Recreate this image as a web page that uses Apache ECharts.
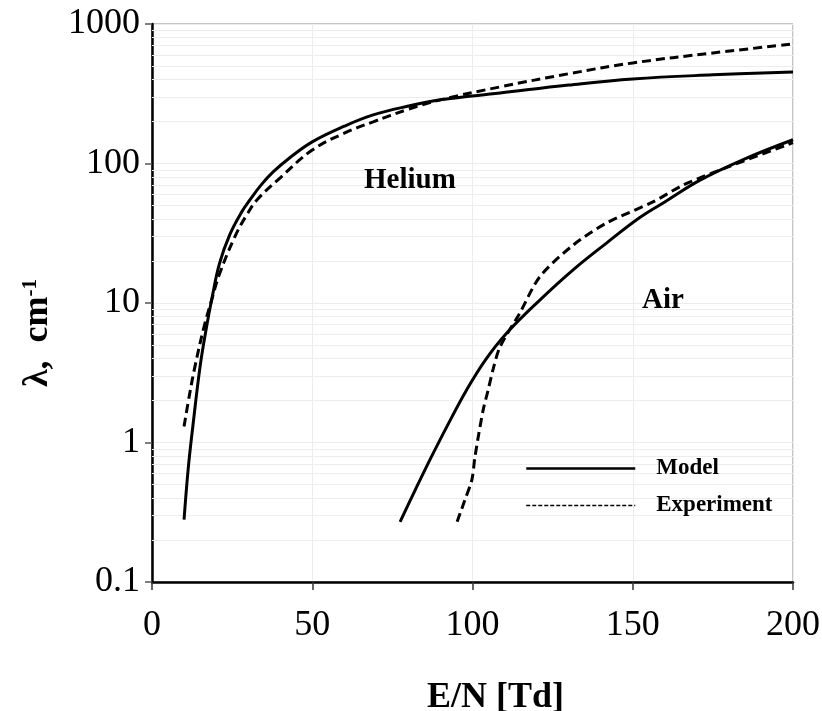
<!DOCTYPE html>
<html lang="en">
<head>
    <meta charset="UTF-8">
    <title>Mean free path vs E/N</title>
    <style>
        html, body {
            margin: 0;
            padding: 0;
            background: #fff;
        }
        #main {
            width: 822px;
            height: 711px;
        }
    </style>
    <script type="text/javascript" src="https://cdn.jsdelivr.net/npm/echarts@6/dist/echarts.min.js"></script>
</head>
<body>
<div id="main"></div>
<script type="text/javascript">
    // E/N [Td] and lambda [cm^-1]
    var heModelX = [10, 11.3, 12.8, 15, 17, 18.6, 21, 24.3, 28, 30.6, 34, 37.8, 43, 50, 60, 69, 80, 90, 108.6, 130, 150, 175, 200];
    var heModelY = [0.28, 0.65, 1.34, 3.5, 6.7, 10.5, 19, 31, 45, 55, 70, 87, 110, 143, 185, 223, 258, 286, 320, 365, 404, 432, 453];
    var heExpX = [10, 11.7, 13.4, 16.2, 18.6, 21, 25.9, 29.6, 32.8, 40, 50, 60, 69, 80, 90, 108.6, 130, 150, 175, 200];
    var heExpY = [1.3, 2.2, 3.5, 6.7, 10.5, 16, 30, 43, 55, 79, 125, 165, 199, 245, 286, 354, 440, 526, 620, 719];
    var airModelX = [77.4, 82, 86.7, 92, 98.2, 104, 110.7, 121, 131.4, 141.9, 152.2, 160, 171, 185, 200];
    var airModelY = [0.27, 0.45, 0.75, 1.3, 2.39, 3.9, 6.1, 10.5, 17.3, 27, 41, 53, 76, 108, 148];
    var airExpX = [95.2, 97.5, 99.8, 100.8, 103.3, 104.9, 106.5, 108.6, 114.8, 121, 131.4, 141.9, 156.3, 165.7, 180, 200];
    var airExpY = [0.27, 0.38, 0.54, 0.8, 1.7, 2.39, 3.4, 4.85, 8.5, 15.4, 26, 37.5, 53, 70, 95, 141];

    var xTicks = [0, 50, 100, 150, 200];
    var yDecades = [0.1, 1, 10, 100, 1000];
    var minorSteps = [2, 3, 4, 5, 6, 7, 8, 9];

    function pairs(xs, ys) {
        var out = [];
        for (var i = 0; i < xs.length; i++) {
            out.push([xs[i], ys[i]]);
        }
        return out;
    }

    // light gridlines at 2..9 of every decade
    var minorLines = [];
    for (var d = 0; d < yDecades.length - 1; d++) {
        for (var k = 0; k < minorSteps.length; k++) {
            minorLines.push({yAxis: +(yDecades[d] * minorSteps[k]).toPrecision(3)});
        }
    }

    var serif = '"Liberation Serif", "Times New Roman", serif';
    var chart = echarts.init(document.getElementById('main'));

    var option = {
        animation: false,
        grid: {
            left: 152,
            right: 29,
            top: 24,
            bottom: 129,
            outerBoundsMode: 'none',
            containLabel: false,
            show: true,
            borderColor: '#8a8a8a',
            borderWidth: 1
        },
        legend: {
            orient: 'vertical',
            left: 520,
            top: 452,
            itemWidth: 109,
            itemHeight: 12,
            itemGap: 14,
            z: 10,
            data: [
                {name: 'Model', lineStyle: {width: 2.5, type: 'solid'}, itemStyle: {opacity: 0}},
                {name: 'Experiment', lineStyle: {width: 1.5, type: [4, 2]}, itemStyle: {opacity: 0}}
            ],
            textStyle: {
                fontFamily: serif,
                fontWeight: 'bold',
                fontSize: 23,
                color: '#000',
                padding: [0, 0, 0, 16]
            }
        },
        xAxis: {
            type: 'value',
            min: 0,
            max: 200,
            interval: 50,
            name: 'E/N [Td]',
            nameLocation: 'middle',
            nameGap: 98,
            nameTextStyle: {
                fontFamily: serif,
                fontWeight: 'bold',
                fontSize: 36,
                color: '#000',
                padding: [0, 0, 0, 46]
            },
            axisLine: {lineStyle: {color: '#000', width: 2.5}},
            axisTick: {length: 8, lineStyle: {color: '#333', width: 1.5}},
            axisLabel: {
                fontFamily: serif,
                fontSize: 36,
                color: '#000',
                margin: 26,
                formatter: function (v) {
                    return xTicks.indexOf(v) >= 0 ? String(v) : '';
                }
            },
            splitLine: {show: true, lineStyle: {color: '#ececec', width: 1}}
        },
        yAxis: {
            type: 'log',
            logBase: 10,
            min: 0.1,
            max: 1000,
            name: 'λ,  cm{sup|-1}',
            nameLocation: 'middle',
            nameGap: 96,
            nameRotate: 90,
            nameTextStyle: {
                fontFamily: serif,
                fontWeight: 'bold',
                fontSize: 36,
                color: '#000',
                padding: [0, 60, 0, 0],
                rich: {
                    sup: {
                        fontFamily: serif,
                        fontWeight: 'bold',
                        fontSize: 21,
                        color: '#000',
                        verticalAlign: 'top'
                    }
                }
            },
            axisLine: {show: true, lineStyle: {color: '#000', width: 2.5}},
            axisTick: {show: true, length: 7, lineStyle: {color: '#555', width: 1.5}},
            axisLabel: {
                fontFamily: serif,
                fontSize: 36,
                color: '#000',
                margin: 12,
                formatter: function (v) {
                    return v < 1 ? v.toFixed(1) : String(Math.round(v));
                }
            },
            splitLine: {show: true, lineStyle: {color: '#ececec', width: 1}}
        },
        series: [
            {
                name: 'grid',
                type: 'line',
                data: [],
                silent: true,
                z: 1,
                markLine: {
                    silent: true,
                    z: 1,
                    symbol: 'none',
                    label: {show: false},
                    lineStyle: {color: '#ededed', width: 1, type: 'solid'},
                    data: minorLines
                }
            },
            {
                name: 'Model',
                type: 'line',
                data: pairs(heModelX, heModelY),
                showSymbol: false,
                symbol: 'none',
                smooth: 0.4,
                z: 3,
                lineStyle: {color: '#000', width: 3, type: 'solid'},
                itemStyle: {color: '#000'}
            },
            {
                name: 'Experiment',
                type: 'line',
                data: pairs(heExpX, heExpY),
                showSymbol: false,
                symbol: 'none',
                smooth: 0.4,
                z: 3,
                lineStyle: {color: '#000', width: 3, type: [9, 5]},
                itemStyle: {color: '#000'}
            },
            {
                name: 'Model',
                type: 'line',
                data: pairs(airModelX, airModelY),
                showSymbol: false,
                symbol: 'none',
                smooth: 0.4,
                z: 3,
                lineStyle: {color: '#000', width: 3, type: 'solid'},
                itemStyle: {color: '#000'}
            },
            {
                name: 'Experiment',
                type: 'line',
                data: pairs(airExpX, airExpY),
                showSymbol: false,
                symbol: 'none',
                smooth: 0.3,
                z: 3,
                lineStyle: {color: '#000', width: 3, type: [9, 5]},
                itemStyle: {color: '#000'}
            }
        ],
        graphic: [
            {
                type: 'text',
                left: 364,
                top: 166,
                z: 10,
                style: {
                    text: 'Helium',
                    font: 'bold 29px ' + serif,
                    fill: '#000'
                }
            },
            {
                type: 'text',
                left: 642,
                top: 286,
                z: 10,
                style: {
                    text: 'Air',
                    font: 'bold 29px ' + serif,
                    fill: '#000'
                }
            }
        ]
    };

    chart.setOption(option);
</script>
</body>
</html>
